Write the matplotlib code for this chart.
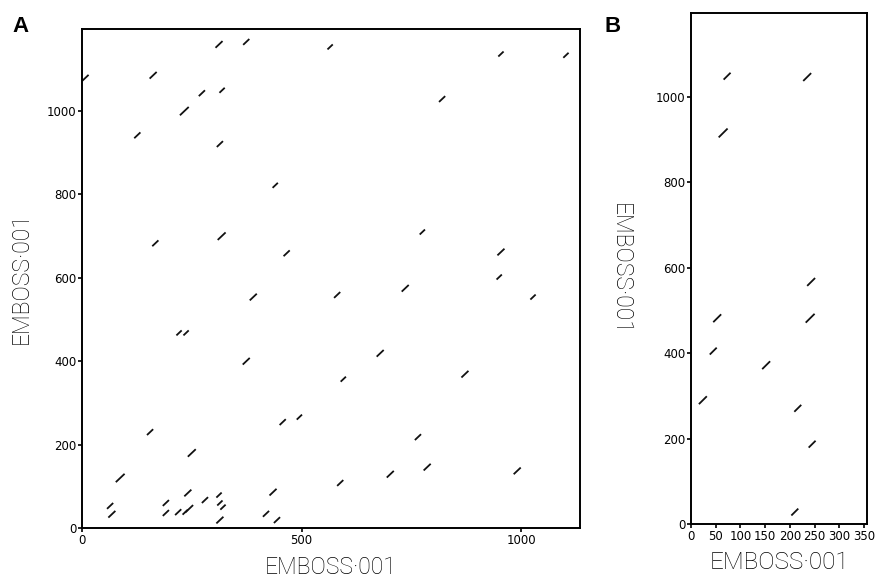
import matplotlib
matplotlib.use("Agg")
import matplotlib.pyplot as plt
import numpy as np

# ---- Panel A data: centre x, centre y, segment length (data units) ----
a_x = [8, 162, 312, 374, 273, 319, 233, 126, 314, 440, 167, 318, 466, 390,
       565, 954, 1102, 820, 775, 954, 950, 581, 736, 1027, 221, 237, 374, 155,
       250, 87, 64, 68, 191, 191, 219, 241, 235, 244, 280, 312, 314, 321, 314,
       435, 419, 444, 457, 495, 679, 595, 872, 765, 588, 702, 786, 991]
a_y = [1080, 1086, 1160, 1166, 1043, 1050, 1000, 942, 921, 822, 683, 700, 659, 554,
       1154, 1137, 1134, 1029, 710, 662, 602, 559, 575, 554, 468, 468, 400, 230,
       180, 120, 53, 33, 60, 36, 38, 84, 38, 46, 67, 79, 60, 50, 19,
       86, 34, 19, 254, 266, 419, 357, 369, 218, 108, 129, 146, 137]
a_len = [14, 16, 16, 14, 14, 12, 20, 14, 14, 12, 14, 18, 14, 16,
         12, 12, 12, 14, 12, 16, 12, 14, 16, 12, 12, 12, 16, 14,
         18, 20, 14, 16, 14, 14, 14, 16, 12, 18, 14, 12, 12, 12, 16,
         16, 14, 14, 14, 12, 16, 12, 16, 14, 14, 16, 16, 16]

# ---- Panel B data ----
b_x = [73, 235, 65, 243, 53, 241, 45, 152, 24, 216, 245, 210]
b_y = [1049, 1047, 916, 567, 482, 482, 405, 372, 290, 271, 187, 28]
b_len = [14, 16, 18, 16, 16, 18, 14, 16, 16, 14, 14, 14]

a_xlim = (0, 1134)
a_ylim = (0, 1197)
b_xlim = (0, 356)
b_ylim = (0, 1197)
a_xticks = [0, 500, 1000]
a_yticks = [0, 200, 400, 600, 800, 1000]
b_xticks = [0, 50, 100, 150, 200, 250, 300, 350]
b_yticks = [0, 200, 400, 600, 800, 1000]
axis_label = "EMBOSS\u00b7001"

fig = plt.figure(figsize=(8.77, 5.84), dpi=100)
axA = fig.add_axes([82/877, 56/584, 498/877, 499/584])
axB = fig.add_axes([691/877, 60/584, 176/877, 511/584])


def draw_segments(ax, xs, ys, ls, yscale=1.0):
    for x, y, l in zip(xs, ys, ls):
        h = l / 2.0
        ax.plot([x - h, x + h], [y - h * yscale, y + h * yscale],
                color="#111111", lw=1.3, solid_capstyle="butt")


draw_segments(axA, a_x, a_y, a_len)
draw_segments(axB, b_x, b_y, b_len, yscale=1.15)

tick_font = dict(family="DejaVu Sans", size=8.5)
label_family = ["Roboto", "DejaVu Sans"]
label_kw = dict(family=label_family, fontweight="light", color="black")

for ax, xl, yl, xt, yt in [(axA, a_xlim, a_ylim, a_xticks, a_yticks),
                           (axB, b_xlim, b_ylim, b_xticks, b_yticks)]:
    ax.set_xlim(*xl)
    ax.set_ylim(*yl)
    ax.set_xticks(xt)
    ax.set_yticks(yt)
    ax.set_xticklabels([str(v) for v in xt], **tick_font)
    ax.set_yticklabels([str(v) for v in yt], **tick_font)
    ax.tick_params(direction="out", length=3, width=1.2, pad=1, color="black")
    for s in ax.spines.values():
        s.set_linewidth(1.4)
        s.set_color("black")

axA.set_xlabel(axis_label, fontsize=16.5, labelpad=7, **label_kw)
axA.set_ylabel(axis_label, fontsize=16.5, labelpad=10, **label_kw)
axB.set_xlabel(axis_label, fontsize=17.5, labelpad=6, **label_kw)
axB.set_ylabel(axis_label, fontsize=16.5, rotation=270, labelpad=34,
               va="bottom", **label_kw)

fig.text(12/877, 1 - 32/584, "A", family="Liberation Sans", fontweight="bold", fontsize=16)
fig.text(604/877, 1 - 32/584, "B", family="Liberation Sans", fontweight="bold", fontsize=16)

fig.savefig("out.png", dpi=100)
